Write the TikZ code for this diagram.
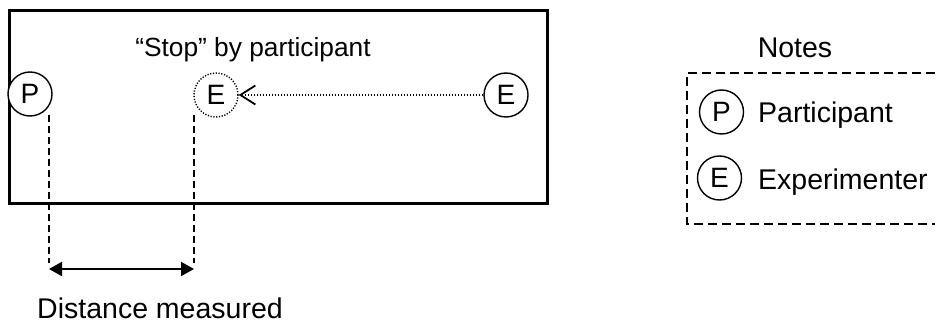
\documentclass[tikz,border=0pt]{standalone}
\usepackage{fontspec}
\setmainfont{Liberation Sans}
\usetikzlibrary{arrows.meta}
\begin{document}
\begin{tikzpicture}[x=1pt,y=-1pt,
  txt/.style={font=\fontsize{28.5}{32}\selectfont, inner sep=0pt},
  person/.style={circle, draw, line width=1.4pt, minimum size=44pt, inner sep=0pt, font=\fontsize{28}{32}\selectfont},
  ghost/.style={person, dash pattern=on 1.2pt off 1.6pt},
  guide/.style={line width=1.4pt, dash pattern=on 7pt off 4pt},
  legendbox/.style={line width=1.4pt, dash pattern=on 9pt off 5pt}]
\useasboundingbox (0,0) rectangle (937,323);
% room
\draw[line width=3pt] (9,11) rectangle (547,204);
\node[txt, anchor=base, font=\fontsize{26.3}{30}\selectfont] (stop) at (253,57) {“Stop” by participant};
\node[person, fill=white] (P) at (30,94) {P};
\node[ghost] (Eg) at (216,95) {E};
\node[person] (E) at (506,95) {E};
\draw[line width=1.7pt, dash pattern=on 1.5pt off 1.5pt, -{Straight Barb[length=15pt,width=19pt,line width=1.8pt]}] (E) -- (Eg);
% guides
\coordinate (p1) at (49,115);
\coordinate (p2) at (49,263);
\coordinate (e1) at (194,115);
\coordinate (e2) at (194,263);
\draw[guide] (p1) -- (p2);
\draw[guide] (e1) -- (e2);
\coordinate (a1) at (49,269);
\coordinate (a2) at (194,269);
\draw[line width=2pt, {Triangle[length=13pt,width=14pt]}-{Triangle[length=13pt,width=14pt]}] (a1) -- (a2);
\node[txt, anchor=base] (dist) at (160,318) {Distance measured};
% legend
\node[txt, anchor=base] (notes) at (795,58) {Notes};
\draw[legendbox] (935,73) -- (687,73) -- (687,224) -- (935,224);
\node[person] (LP) at (721.5,112) {P};
\node[person] (LE) at (719.5,178) {E};
\node[txt, anchor=base west] (lp) at (758,123) {Participant};
\node[txt, anchor=base west] (le) at (758,190) {Experimenter};
\end{tikzpicture}
\end{document}
